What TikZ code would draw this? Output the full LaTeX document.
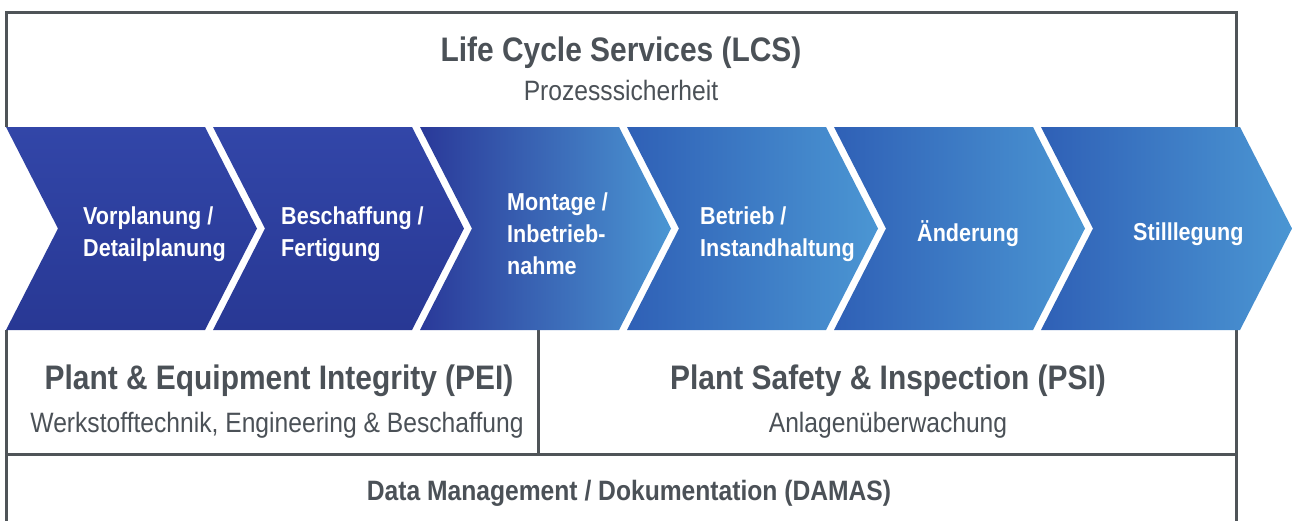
\documentclass[tikz,border=0pt]{standalone}
\usepackage{fontspec}
\setmainfont{Liberation Sans}[FakeStretch=0.88]
\usepackage{xcolor}
\usetikzlibrary{positioning}

\definecolor{framegray}{HTML}{4F5458}
\definecolor{textgray}{HTML}{4B5157}
\definecolor{navytop}{HTML}{3246A8}
\definecolor{navybot}{HTML}{283894}
\definecolor{navyleft}{HTML}{2A3999}
\definecolor{blueleft}{HTML}{2F60B6}
\definecolor{blueright}{HTML}{4B96D3}

\begin{document}
\begin{tikzpicture}[x=1pt, y=-1pt,
                frame/.style={draw=framegray, line width=3pt},
                dark phase/.style={top color=navytop, bottom color=navybot},
                mid phase/.style={left color=navyleft, right color=blueright},
                light phase/.style={left color=blueleft, right color=blueright},
                phase text/.style={text=white, align=left, anchor=west, inner sep=0pt,
                  font=\bfseries\fontsize{24.5}{32}\selectfont},
                box title/.style={text=textgray, anchor=base, inner sep=0pt,
                  font=\bfseries\fontsize{34}{40}\selectfont},
                box sub/.style={text=textgray, anchor=base, inner sep=0pt,
                  font=\fontsize{28}{34}\selectfont}]

  \useasboundingbox (0,0) rectangle (1293,520);
  \fill[white] (0,0) rectangle (1293,520);

  \draw[frame] (6,127) -- (6,12) -- (1236,12) -- (1236,127);
  \draw[frame] (6,330) -- (6,540);
  \draw[frame] (1236,330) -- (1236,540);
  \draw[frame] (538,330) -- (538,454);
  \draw[frame] (6,454) -- (1236,454);

  \foreach \i/\look in {0/dark phase, 1/dark phase, 2/mid phase,
                        3/light phase, 4/light phase, 5/light phase}
    \path[\look] ({6+207*\i},127) -- ++(199,0) -- ++(52,101.5) -- ++(-52,101.5)
      -- ++(-199,0) -- ++(52,-101.5) -- cycle;

  \node[phase text] (vorplanung) at (83,234) {Vorplanung /\\Detailplanung};
  \node[phase text] (beschaffung) at (281,234) {Beschaffung /\\Fertigung};
  \node[phase text] (montage) at (507,234) {Montage /\\Inbetrieb-\\nahme};
  \node[phase text] (betrieb) at (700,234) {Betrieb /\\Instandhaltung};
  \node[phase text] (aenderung) at (917,234) {Änderung};
  \node[phase text] (stilllegung) at (1133,234) {Stilllegung};

  \node[box title] (lcs) at (621,61) {Life Cycle Services (LCS)};
  \node[box sub] (lcs sub) at (621,100) {Prozesssicherheit};

  \node[box title] (pei) at (279,389) {Plant \& Equipment Integrity (PEI)};
  \node[box sub] (pei sub) at (277,432) {Werkstofftechnik, Engineering \& Beschaffung};

  \node[box title] (psi) at (888,389) {Plant Safety \& Inspection (PSI)};
  \node[box sub] (psi sub) at (888,432) {Anlagenüberwachung};

  \node[box title, font=\bfseries\fontsize{28}{34}\selectfont] (damas) at (629,500)
    {Data Management / Dokumentation (DAMAS)};
\end{tikzpicture}
\end{document}
